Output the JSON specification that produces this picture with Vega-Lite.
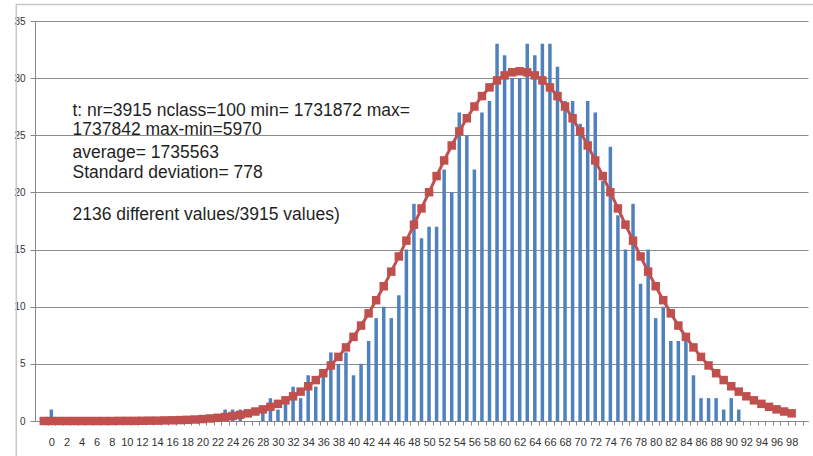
{
  "$schema": "https://vega.github.io/schema/vega-lite/v6.json",
  "width": 773,
  "height": 400,
  "autosize": {"type": "none"},
  "padding": {"left": 35, "top": 21, "right": 5, "bottom": 35},
  "background": "white",
  "config": {"view": {"stroke": null}},
  "datasets": {
    "hist": [
      {"cls": 0, "count": 1}, {"cls": 1, "count": 0}, {"cls": 2, "count": 0}, {"cls": 3, "count": 0}, {"cls": 4, "count": 0},
      {"cls": 5, "count": 0}, {"cls": 6, "count": 0}, {"cls": 7, "count": 0}, {"cls": 8, "count": 0}, {"cls": 9, "count": 0},
      {"cls": 10, "count": 0}, {"cls": 11, "count": 0}, {"cls": 12, "count": 0}, {"cls": 13, "count": 0}, {"cls": 14, "count": 0},
      {"cls": 15, "count": 0}, {"cls": 16, "count": 0}, {"cls": 17, "count": 0}, {"cls": 18, "count": 0}, {"cls": 19, "count": 0},
      {"cls": 20, "count": 0}, {"cls": 21, "count": 0}, {"cls": 22, "count": 0}, {"cls": 23, "count": 1}, {"cls": 24, "count": 1},
      {"cls": 25, "count": 1}, {"cls": 26, "count": 0}, {"cls": 27, "count": 0}, {"cls": 28, "count": 1}, {"cls": 29, "count": 2},
      {"cls": 30, "count": 1}, {"cls": 31, "count": 2}, {"cls": 32, "count": 3}, {"cls": 33, "count": 2}, {"cls": 34, "count": 4},
      {"cls": 35, "count": 3}, {"cls": 36, "count": 4}, {"cls": 37, "count": 6}, {"cls": 38, "count": 5}, {"cls": 39, "count": 6},
      {"cls": 40, "count": 4}, {"cls": 41, "count": 5}, {"cls": 42, "count": 7}, {"cls": 43, "count": 9}, {"cls": 44, "count": 10},
      {"cls": 45, "count": 9}, {"cls": 46, "count": 11}, {"cls": 47, "count": 15}, {"cls": 48, "count": 19}, {"cls": 49, "count": 16},
      {"cls": 50, "count": 17}, {"cls": 51, "count": 17}, {"cls": 52, "count": 22}, {"cls": 53, "count": 20}, {"cls": 54, "count": 27},
      {"cls": 55, "count": 25}, {"cls": 56, "count": 22}, {"cls": 57, "count": 27}, {"cls": 58, "count": 28}, {"cls": 59, "count": 33},
      {"cls": 60, "count": 32}, {"cls": 61, "count": 30}, {"cls": 62, "count": 30}, {"cls": 63, "count": 33}, {"cls": 64, "count": 32},
      {"cls": 65, "count": 33}, {"cls": 66, "count": 33}, {"cls": 67, "count": 31}, {"cls": 68, "count": 28}, {"cls": 69, "count": 28},
      {"cls": 70, "count": 26}, {"cls": 71, "count": 28}, {"cls": 72, "count": 27}, {"cls": 73, "count": 21}, {"cls": 74, "count": 24},
      {"cls": 75, "count": 18}, {"cls": 76, "count": 15}, {"cls": 77, "count": 19}, {"cls": 78, "count": 12}, {"cls": 79, "count": 15},
      {"cls": 80, "count": 9}, {"cls": 81, "count": 10}, {"cls": 82, "count": 7}, {"cls": 83, "count": 7}, {"cls": 84, "count": 7},
      {"cls": 85, "count": 4}, {"cls": 86, "count": 2}, {"cls": 87, "count": 2}, {"cls": 88, "count": 2}, {"cls": 89, "count": 1},
      {"cls": 90, "count": 2}, {"cls": 91, "count": 1}, {"cls": 92, "count": 0}, {"cls": 93, "count": 0}, {"cls": 94, "count": 0},
      {"cls": 95, "count": 0}, {"cls": 96, "count": 0}, {"cls": 97, "count": 0}, {"cls": 98, "count": 0}, {"cls": 99, "count": 0}
    ],
    "curve": [
      {"cls": -1, "fit": 0}, {"cls": 0, "fit": 0}, {"cls": 1, "fit": 0}, {"cls": 2, "fit": 0}, {"cls": 3, "fit": 0},
      {"cls": 4, "fit": 0}, {"cls": 5, "fit": 0}, {"cls": 6, "fit": 0}, {"cls": 7, "fit": 0}, {"cls": 8, "fit": 0},
      {"cls": 9, "fit": 0.01}, {"cls": 10, "fit": 0.01}, {"cls": 11, "fit": 0.01}, {"cls": 12, "fit": 0.02}, {"cls": 13, "fit": 0.03},
      {"cls": 14, "fit": 0.03}, {"cls": 15, "fit": 0.05}, {"cls": 16, "fit": 0.06}, {"cls": 17, "fit": 0.08}, {"cls": 18, "fit": 0.1},
      {"cls": 19, "fit": 0.13}, {"cls": 20, "fit": 0.17}, {"cls": 21, "fit": 0.22}, {"cls": 22, "fit": 0.28}, {"cls": 23, "fit": 0.35},
      {"cls": 24, "fit": 0.44}, {"cls": 25, "fit": 0.54}, {"cls": 26, "fit": 0.67}, {"cls": 27, "fit": 0.83}, {"cls": 28, "fit": 1.02},
      {"cls": 29, "fit": 1.24}, {"cls": 30, "fit": 1.5}, {"cls": 31, "fit": 1.81}, {"cls": 32, "fit": 2.16}, {"cls": 33, "fit": 2.57},
      {"cls": 34, "fit": 3.04}, {"cls": 35, "fit": 3.58}, {"cls": 36, "fit": 4.18}, {"cls": 37, "fit": 4.86}, {"cls": 38, "fit": 5.61},
      {"cls": 39, "fit": 6.44}, {"cls": 40, "fit": 7.36}, {"cls": 41, "fit": 8.35}, {"cls": 42, "fit": 9.42}, {"cls": 43, "fit": 10.57},
      {"cls": 44, "fit": 11.79}, {"cls": 45, "fit": 13.07}, {"cls": 46, "fit": 14.4}, {"cls": 47, "fit": 15.78}, {"cls": 48, "fit": 17.18},
      {"cls": 49, "fit": 18.6}, {"cls": 50, "fit": 20.02}, {"cls": 51, "fit": 21.43}, {"cls": 52, "fit": 22.8}, {"cls": 53, "fit": 24.11},
      {"cls": 54, "fit": 25.34}, {"cls": 55, "fit": 26.49}, {"cls": 56, "fit": 27.52}, {"cls": 57, "fit": 28.43}, {"cls": 58, "fit": 29.19},
      {"cls": 59, "fit": 29.8}, {"cls": 60, "fit": 30.24}, {"cls": 61, "fit": 30.51}, {"cls": 62, "fit": 30.6}, {"cls": 63, "fit": 30.51},
      {"cls": 64, "fit": 30.24}, {"cls": 65, "fit": 29.8}, {"cls": 66, "fit": 29.19}, {"cls": 67, "fit": 28.43}, {"cls": 68, "fit": 27.52},
      {"cls": 69, "fit": 26.49}, {"cls": 70, "fit": 25.34}, {"cls": 71, "fit": 24.11}, {"cls": 72, "fit": 22.8}, {"cls": 73, "fit": 21.43},
      {"cls": 74, "fit": 20.02}, {"cls": 75, "fit": 18.6}, {"cls": 76, "fit": 17.18}, {"cls": 77, "fit": 15.78}, {"cls": 78, "fit": 14.4},
      {"cls": 79, "fit": 13.07}, {"cls": 80, "fit": 11.79}, {"cls": 81, "fit": 10.57}, {"cls": 82, "fit": 9.42}, {"cls": 83, "fit": 8.35},
      {"cls": 84, "fit": 7.36}, {"cls": 85, "fit": 6.44}, {"cls": 86, "fit": 5.61}, {"cls": 87, "fit": 4.86}, {"cls": 88, "fit": 4.18},
      {"cls": 89, "fit": 3.58}, {"cls": 90, "fit": 3.04}, {"cls": 91, "fit": 2.57}, {"cls": 92, "fit": 2.16}, {"cls": 93, "fit": 1.81},
      {"cls": 94, "fit": 1.5}, {"cls": 95, "fit": 1.24}, {"cls": 96, "fit": 1.02}, {"cls": 97, "fit": 0.83}, {"cls": 98, "fit": 0.67}
    ]
  },
  "layer": [
    {
      "data": {"values": [{}]},
      "mark": {"type": "rect", "fill": null, "stroke": "#c8c8c8", "strokeWidth": 1.5, "clip": false},
      "encoding": {
        "x": {"datum": -4.64},
        "x2": {"datum": 102},
        "y": {"datum": 36.45},
        "y2": {"datum": -4}
      }
    },
    {
      "data": {"name": "hist"},
      "mark": {"type": "bar", "width": 3.5, "color": "#4F81BD"},
      "encoding": {
        "x": {
          "field": "cls", "type": "quantitative",
          "scale": {"domain": [-1.5, 99.5], "nice": false, "zero": false},
          "axis": {
            "title": null,
            "tickCount": 1000,
            "values": [-0.5, 0, 0.5, 1.5, 2, 2.5, 3.5, 4, 4.5, 5.5, 6, 6.5, 7.5, 8, 8.5, 9.5, 10, 10.5, 11.5, 12, 12.5, 13.5, 14, 14.5, 15.5, 16, 16.5, 17.5, 18, 18.5, 19.5, 20, 20.5, 21.5, 22, 22.5, 23.5, 24, 24.5, 25.5, 26, 26.5, 27.5, 28, 28.5, 29.5, 30, 30.5, 31.5, 32, 32.5, 33.5, 34, 34.5, 35.5, 36, 36.5, 37.5, 38, 38.5, 39.5, 40, 40.5, 41.5, 42, 42.5, 43.5, 44, 44.5, 45.5, 46, 46.5, 47.5, 48, 48.5, 49.5, 50, 50.5, 51.5, 52, 52.5, 53.5, 54, 54.5, 55.5, 56, 56.5, 57.5, 58, 58.5, 59.5, 60, 60.5, 61.5, 62, 62.5, 63.5, 64, 64.5, 65.5, 66, 66.5, 67.5, 68, 68.5, 69.5, 70, 70.5, 71.5, 72, 72.5, 73.5, 74, 74.5, 75.5, 76, 76.5, 77.5, 78, 78.5, 79.5, 80, 80.5, 81.5, 82, 82.5, 83.5, 84, 84.5, 85.5, 86, 86.5, 87.5, 88, 88.5, 89.5, 90, 90.5, 91.5, 92, 92.5, 93.5, 94, 94.5, 95.5, 96, 96.5, 97.5, 98, 98.5, 99.5],
            "labelExpr": "datum.value % 1 === 0 ? format(datum.value, 'd') : ''",
            "labelOverlap": false,
            "labelFlush": false,
            "labelBound": false,
            "labelFont": "Liberation Sans Narrow, Liberation Sans",
            "labelFontSize": 11,
            "labelColor": "#333333",
            "labelPadding": 11,
            "tickSize": 4,
            "tickColor": "#868686",
            "tickOpacity": {"condition": {"test": "datum.value % 1 === 0", "value": 0}, "value": 1},
            "domainColor": "#868686",
            "grid": false
          }
        },
        "y": {
          "field": "count", "type": "quantitative",
          "scale": {"domain": [0, 35], "nice": false},
          "axis": {
            "title": null,
            "values": [0, 5, 10, 15, 20, 25, 30, 35],
            "grid": true,
            "gridColor": "#8c8c8c",
            "gridWidth": 1,
            "domainColor": "#868686",
            "tickColor": "#868686",
            "tickSize": 5,
            "labelFont": "Liberation Sans Narrow, Liberation Sans",
            "labelFontSize": 10,
            "labelColor": "#333333",
            "labelPadding": 5
          }
        }
      }
    },
    {
      "data": {"name": "curve"},
      "mark": {
        "type": "line",
        "color": "#C0504D",
        "strokeWidth": 3,
        "point": {"shape": "square", "size": 72, "filled": true, "color": "#C0504D", "opacity": 1}
      },
      "encoding": {
        "x": {"field": "cls", "type": "quantitative"},
        "y": {"field": "fit", "type": "quantitative"}
      }
    },
    {
      "data": {"values": [{}]},
      "mark": {"type": "text", "align": "left", "baseline": "alphabetic", "font": "Liberation Sans", "fontSize": 17.5, "lineHeight": 19.6, "color": "#1f1f1f"},
      "encoding": {
        "x": {"datum": 2.8},
        "y": {"datum": 26.7},
        "text": {"value": ["t: nr=3915 nclass=100 min= 1731872 max=", "1737842 max-min=5970"]}
      }
    },
    {
      "data": {"values": [{}]},
      "mark": {"type": "text", "align": "left", "baseline": "alphabetic", "font": "Liberation Sans", "fontSize": 17.5, "lineHeight": 19.6, "color": "#1f1f1f"},
      "encoding": {
        "x": {"datum": 2.8},
        "y": {"datum": 23.0},
        "text": {"value": ["average= 1735563", "Standard deviation= 778"]}
      }
    },
    {
      "data": {"values": [{}]},
      "mark": {"type": "text", "align": "left", "baseline": "alphabetic", "font": "Liberation Sans", "fontSize": 17.5, "color": "#1f1f1f"},
      "encoding": {
        "x": {"datum": 2.8},
        "y": {"datum": 17.6},
        "text": {"value": "2136 different values/3915 values)"}
      }
    }
  ]
}
